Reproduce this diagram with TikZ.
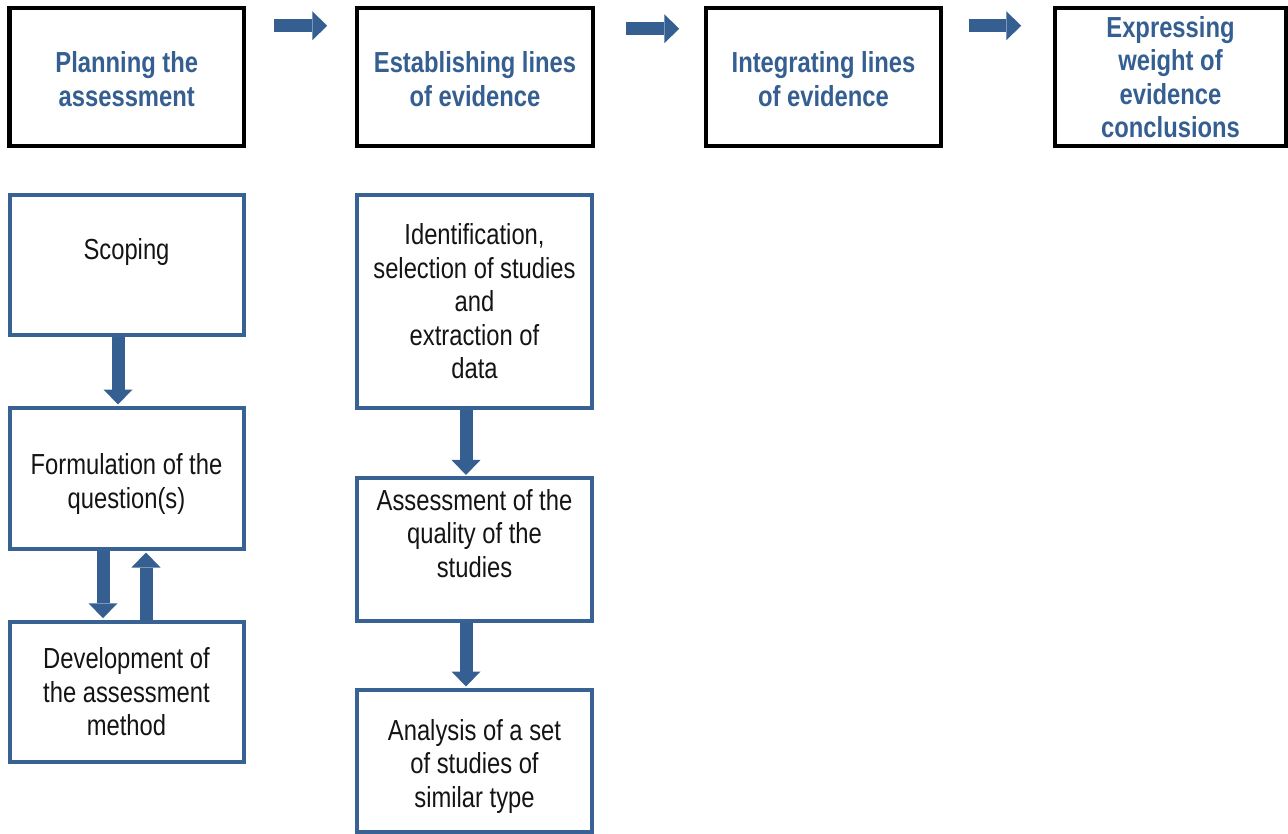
\documentclass[tikz,border=0pt]{standalone}
\usepackage{fontspec}
\setmainfont{Liberation Sans}[FakeStretch=0.82]
\usetikzlibrary{arrows.meta,positioning}
\definecolor{wordblue}{RGB}{54,95,145}
\definecolor{boxblue}{RGB}{56,98,148}
\newcommand{\lifthd}{\rule{0pt}{25pt}}
\newcommand{\liftbx}{\rule{0pt}{32pt}}

\begin{document}
\begin{tikzpicture}[x=1pt, y=-1pt,
    stage/.style={draw, line width=4.5pt, minimum width=235pt, minimum height=138pt, align=center, inner sep=0pt, font=\fontsize{29pt}{33.5pt}\selectfont\bfseries, text=wordblue},
    task/.style={draw=boxblue, line width=4pt, minimum width=235pt, align=center, inner sep=0pt, font=\fontsize{29pt}{33.5pt}\selectfont, text=black!92},
    arr/.style={-{Triangle[length=15pt, width=29pt, line width=0pt]}, line width=13pt, wordblue, shorten >=1.5pt}
]
\useasboundingbox (0,0) rectangle (1288,834);

% top row
\node[stage, minimum width=234.5pt] (plan) at (126.75,77) {\lifthd Planning the\\assessment};
\node[stage, minimum width=236pt] (lines) at (475,77) {\lifthd Establishing lines\\of evidence};
\node[stage] (integ) at (823.5,77) {\lifthd Integrating lines\\of evidence};
\node[stage, minimum width=231pt] (expr) at (1170.5,77) {Expressing\\weight of\\evidence\\conclusions};

\draw[arr] ([shift={(28,20)}]plan.north east) -- ([shift={(-26,20)}]lines.north west);
\draw[arr] ([shift={(31,23)}]lines.north east) -- ([shift={(-23,23)}]integ.north west);
\draw[arr] ([shift={(26,20)}]integ.north east) -- ([shift={(-30,20)}]expr.north west);

% planning column
\node[task, minimum width=234pt, minimum height=140pt] (scop) at (126.5,265) {\liftbx Scoping\\\strut};
\node[task, minimum width=234pt, minimum height=141pt] (form) at (126.5,478.5) {\liftbx Formulation of the\\question(s)};
\node[task, minimum width=234pt, minimum height=140.5pt] (devt) at (126.5,692) {Development of\\the assessment\\method};

\draw[arr] ([xshift=-8.5pt]scop.south) -- ([xshift=-8.5pt]form.north);
\draw[arr] ([xshift=-23.5pt]form.south) -- ([xshift=-23.5pt]devt.north);
\draw[arr] ([xshift=19.5pt]devt.north) -- ([xshift=19.5pt]form.south);

% lines of evidence column
\node[task, minimum height=213pt] (ident) at (474.5,301.5) {Identification,\\selection of studies\\and\\extraction of\\data};
\node[task, minimum height=141.5pt] (assess) at (474.5,549.75) {\liftbx Assessment of the\\quality of the\\studies\\\strut};
\node[task, minimum height=142pt] (anal) at (474.5,761) {\liftbx Analysis of a set\\of studies of\\similar type};

\draw[arr] ([xshift=-8.5pt]ident.south) -- ([xshift=-8.5pt]assess.north);
\draw[arr] ([xshift=-8.5pt]assess.south) -- ([xshift=-8.5pt]anal.north);
\end{tikzpicture}
\end{document}
